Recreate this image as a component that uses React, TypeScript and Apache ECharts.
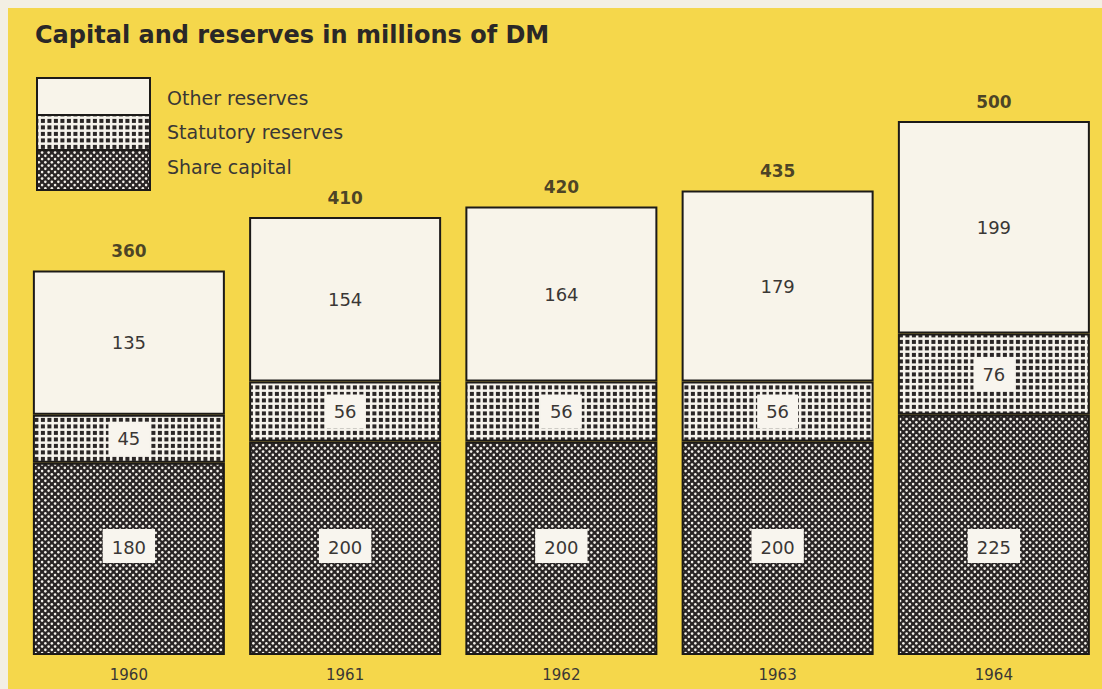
import React, { useEffect, useRef } from "react";
import * as echarts from "echarts";

const years = ["1960", "1961", "1962", "1963", "1964"];
const shareCapital = [180, 200, 200, 200, 225];
const statutoryReserves = [45, 56, 56, 56, 76];
const otherReserves = [135, 154, 164, 179, 199];
const totals = [360, 410, 420, 435, 500];
const legendNames = ["Other reserves", "Statutory reserves", "Share capital"];
const titleText = "Capital and reserves in millions of DM";

const YELLOW = "#f5d74b";
const CREAM = "#f8f4ea";
const DARK = "#2a2626";
const BORDER = "#1c1a18";
const TEXT = "#3a3735";
const FONT = "DejaVu Sans, Liberation Sans, Arial, sans-serif";

function makeDots() {
  const c = document.createElement("canvas");
  c.width = 13;
  c.height = 13;
  const g = c.getContext("2d")!;
  g.fillStyle = DARK;
  g.fillRect(0, 0, 13, 13);
  g.fillStyle = "#f4f1ea";
  const p = 6.5;
  for (let i = -1; i <= 2; i++) {
    for (let j = -1; j <= 2; j++) {
      for (const o of [0, p / 2]) {
        g.beginPath();
        g.arc(i * p + 1.6 + o, j * p + 1.6 + o, 1.3, 0, Math.PI * 2);
        g.fill();
      }
    }
  }
  return { image: c.toDataURL(), repeat: "repeat", imageWidth: 13, imageHeight: 13 };
}

function makeGrid() {
  const c = document.createElement("canvas");
  c.width = 13;
  c.height = 13;
  const g = c.getContext("2d")!;
  g.fillStyle = "#f6f3ec";
  g.fillRect(0, 0, 13, 13);
  g.fillStyle = DARK;
  const p = 6.5;
  for (let i = 0; i < 2; i++) {
    for (let j = 0; j < 2; j++) {
      g.fillRect(i * p + 0.4, j * p + 0.4, 4, 4);
    }
  }
  return { image: c.toDataURL(), repeat: "repeat", imageWidth: 13, imageHeight: 13 };
}

export default function App() {
  const ref = useRef<HTMLDivElement>(null);
  useEffect(() => {
    document.body.style.background = "#f3efe3";
    document.body.style.overflow = "hidden";
    const chart = echarts.init(ref.current!, null, { renderer: "svg" });
    const dots = makeDots();
    const grid = makeGrid();
    const boxLabel = {
      show: true,
      backgroundColor: "#f8f5ee",
      padding: [9, 9, 7, 9],
      fontSize: 18,
      color: TEXT,
      fontFamily: FONT,
    };
    chart.setOption({
      animation: false,
      backgroundColor: YELLOW,
      textStyle: { fontFamily: FONT },
      title: {
        text: titleText,
        left: 22,
        top: 10,
        textStyle: { fontSize: 24, fontWeight: "bold", color: "#2a2827", fontFamily: FONT },
      },
      grid: { left: 12.75, right: -6.25, top: 113, bottom: 34 },
      xAxis: {
        type: "category",
        data: years,
        axisLine: { show: false },
        axisTick: { show: false },
        axisLabel: {
          fontSize: 15,
          margin: 12,
          color: TEXT,
          fontFamily: FONT,
        },
      },
      yAxis: { type: "value", min: 0, max: 500, show: false },
      graphic: [
        { type: "rect", shape: { x: 29, y: 70, width: 113, height: 37 }, style: { fill: CREAM, stroke: BORDER, lineWidth: 2 } },
        { type: "rect", shape: { x: 29, y: 107, width: 113, height: 35 }, style: { fill: grid, stroke: BORDER, lineWidth: 2 } },
        { type: "rect", shape: { x: 29, y: 142, width: 113, height: 40 }, style: { fill: dots, stroke: BORDER, lineWidth: 2 } },
        ...legendNames.map((n, i) => ({
          type: "text",
          left: 159,
          top: [80, 114, 149][i],
          style: { text: n, fontSize: 19, fill: TEXT, fontFamily: FONT },
        })),
      ],
      series: [
        {
          name: "Share capital",
          type: "bar",
          stack: "a",
          barWidth: 192,
          data: shareCapital,
          itemStyle: { color: dots, borderColor: BORDER, borderWidth: 2 },
          label: { ...boxLabel, position: "insideBottom", distance: 92 },
        },
        {
          name: "Statutory reserves",
          type: "bar",
          stack: "a",
          data: statutoryReserves,
          itemStyle: { color: grid, borderColor: BORDER, borderWidth: 2 },
          label: { ...boxLabel, position: "inside" },
        },
        {
          name: "Other reserves",
          type: "bar",
          stack: "a",
          data: otherReserves,
          itemStyle: { color: CREAM, borderColor: BORDER, borderWidth: 2 },
          label: { show: true, position: "inside", fontSize: 18, color: TEXT, fontFamily: FONT },
        },
        {
          name: "Total",
          type: "scatter",
          data: totals,
          symbolSize: 0,
          label: {
            show: true,
            position: "top",
            distance: 11,
            fontSize: 17,
            fontWeight: "bold",
            color: "#1e1c1c",
            fontFamily: FONT,
          },
        },
      ],
    });
    return () => chart.dispose();
  }, []);
  return (
    <div
      ref={ref}
      style={{ position: "fixed", left: 8, top: 8, width: 1094, height: 681 }}
    />
  );
}
